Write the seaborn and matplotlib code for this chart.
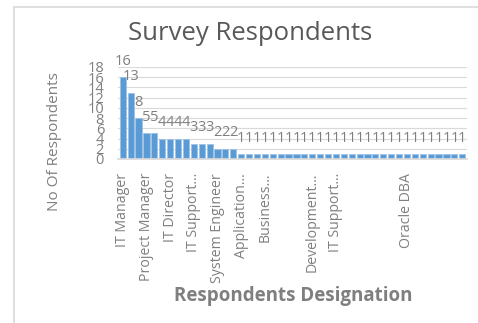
import matplotlib
matplotlib.use("Agg")
import matplotlib.pyplot as plt
from matplotlib.lines import Line2D
import seaborn as sns
import pandas as pd

# ---- data ----
counts = [16, 13, 8, 5, 5, 4, 4, 4, 4, 3, 3, 3, 2, 2, 2] + [1] * 29
designations = [""] * len(counts)
shown_labels = {
    0: "IT Manager", 3: "Project Manager", 6: "IT Director", 9: "IT Support...",
    12: "System Engineer", 15: "Application...", 18: "Business...",
    24: "Development...", 27: "IT Support...", 36: "Oracle DBA",
}
for k, v in shown_labels.items():
    designations[k] = v
title = "Survey Respondents"
ylabel = "No Of Respondents"
xlabel = "Respondents Designation"
yticks = list(range(0, 20, 2))

sns.set_theme(style="white")
plt.rcParams["font.family"] = ["Open Sans", "DejaVu Sans"]

df = pd.DataFrame({"pos": list(range(len(counts))), "count": counts})

fig = plt.figure(figsize=(4.78, 3.23), dpi=100)
ax = fig.add_axes([118 / 478, 1 - 159 / 323, (467 - 118) / 478, (159 - 67) / 323])

sns.barplot(data=df, x="pos", y="count", color="#5B9BD5", saturation=1,
            width=0.78, edgecolor="#9DC3E6", linewidth=0.6, ax=ax)

grey = "#7F7F7F"
ax.set_ylim(0, 18)
ax.set_yticks(yticks)
ax.set_yticklabels([str(t) for t in yticks], fontsize=10.5, color=grey)
ax.yaxis.grid(True, color="#D9D9D9", linewidth=0.8)
ax.set_axisbelow(True)
for s in ["top", "right", "left"]:
    ax.spines[s].set_visible(False)
ax.spines["bottom"].set_color("#D9D9D9")
ax.tick_params(axis="y", length=0, pad=10)
ax.tick_params(axis="x", length=0, pad=10)

pos_shown = list(range(0, len(counts), 3))
ax.set_xticks(pos_shown)
ax.set_xticklabels([designations[p] for p in pos_shown], rotation=90,
                   fontsize=10.2, color=grey)
ax.set_xlim(-0.6, len(counts) - 0.4)

ax.bar_label(ax.containers[0], labels=[str(c) for c in counts], fontsize=10.5,
             color=grey, padding=6)

ax.set_ylabel("")
ax.set_xlabel("")
fig.text(55 / 478, 1 - 142 / 323, ylabel, fontsize=11, color=grey,
         rotation=90, ha="center", va="center")
fig.text(293 / 478, 1 - 296 / 323, xlabel, fontsize=13.5, fontweight="bold",
         color=grey, ha="center", va="center")
fig.text(250 / 478, 1 - 33 / 323, title, fontsize=18.5, color="#595959",
         ha="center", va="center")

fig.add_artist(Line2D([14 / 478, 14 / 478], [0, 1 - 7 / 323],
                      transform=fig.transFigure, color="#D9D9D9", linewidth=1.2))
fig.add_artist(Line2D([14 / 478, 1], [1 - 7 / 323, 1 - 7 / 323],
                      transform=fig.transFigure, color="#D9D9D9", linewidth=1.2))

fig.savefig("out.png", dpi=100, facecolor="white")
